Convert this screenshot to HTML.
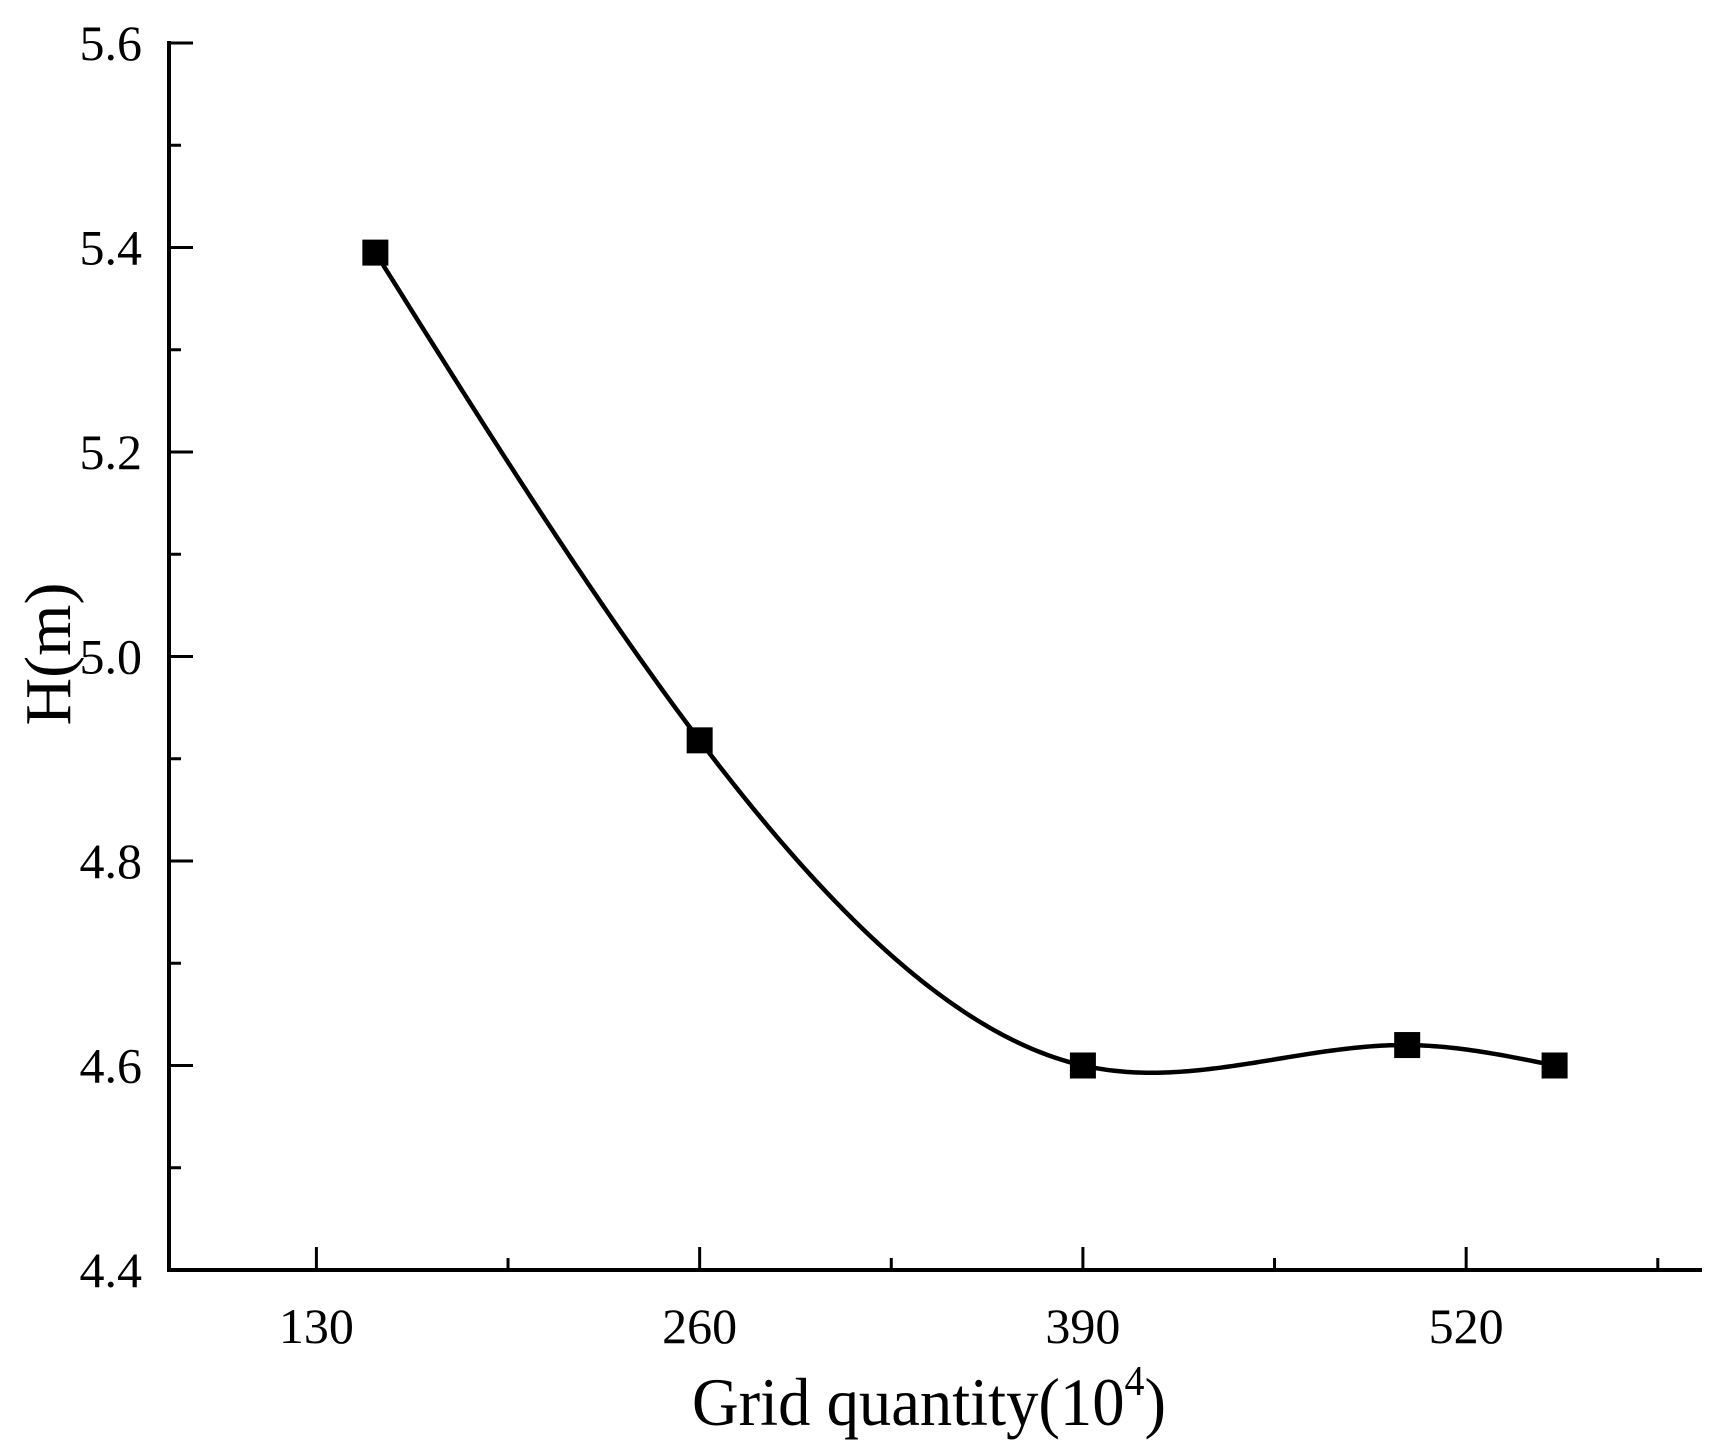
<!DOCTYPE html>
<html><head><meta charset="utf-8"><style>
html,body{margin:0;padding:0;background:#fff;}
svg{display:block;font-family:"Liberation Serif",serif;}
</style></head><body>
<svg id="chart" width="1724" height="1454" viewBox="0 0 1724 1454" xmlns="http://www.w3.org/2000/svg">
<g id="axes"></g>
<g id="series"></g>
<text x="929" y="1425" font-size="68" text-anchor="middle" textLength="474" lengthAdjust="spacingAndGlyphs">Grid quantity(10<tspan font-size="42" dy="-30">4</tspan><tspan dy="30">)</tspan></text>
<text transform="translate(70,654) rotate(-90)" font-size="66" text-anchor="middle">H(m)</text>
</svg>
<script>
const xValues = [150, 260, 390, 500, 550];
const yValues = [5.395, 4.918, 4.60, 4.62, 4.60];
const xTickLabels = ["130", "260", "390", "520"];
const xTickValues = [130, 260, 390, 520];
const xMinorValues = [195, 325, 455, 585];
const yTickLabels = ["4.4", "4.6", "4.8", "5.0", "5.2", "5.4", "5.6"];
const yTickValues = [4.4, 4.6, 4.8, 5.0, 5.2, 5.4, 5.6];
const yMinorValues = [4.5, 4.7, 4.9, 5.1, 5.3, 5.5];

const NS = "http://www.w3.org/2000/svg";
const X0 = 80, X1 = 600, PX0 = 169, PX1 = 1702;
const Y0 = 4.4, Y1 = 5.6, PY0 = 1270, PY1 = 43;
function sx(v){ return PX0 + (v - X0) / (X1 - X0) * (PX1 - PX0); }
function sy(v){ return PY0 + (v - Y0) / (Y1 - Y0) * (PY1 - PY0); }
function mk(tag, attrs, parent){ const e = document.createElementNS(NS, tag); for (const k in attrs) e.setAttribute(k, attrs[k]); parent.appendChild(e); return e; }
const axes = document.getElementById('axes');
const series = document.getElementById('series');

let e = mk('line', {x1: PX0, y1: PY1 - 2, x2: PX0, y2: PY0 + 2, stroke: '#000', 'stroke-width': 4}, axes);


e = mk('line', {x1: PX0 - 2, y1: PY0, x2: PX1, y2: PY0, stroke: '#000', 'stroke-width': 4}, axes);



xTickValues.forEach((v, i) => {
  const t = mk('line', {x1: sx(v), y1: PY0, x2: sx(v), y2: PY0 - 23, stroke: '#000', 'stroke-width': 3}, axes);
  
  
  const l = mk('text', {x: sx(v), y: 1343, 'font-size': 50, 'text-anchor': 'middle'}, axes);
  l.textContent = xTickLabels[i];
  
  
});
xMinorValues.forEach(v => {
  const t = mk('line', {x1: sx(v), y1: PY0, x2: sx(v), y2: PY0 - 12, stroke: '#000', 'stroke-width': 3}, axes);
  
  
});
yTickValues.forEach((v, i) => {
  const t = mk('line', {x1: PX0, y1: sy(v), x2: PX0 + 24, y2: sy(v), stroke: '#000', 'stroke-width': 3}, axes);
  
  
  const l = mk('text', {x: 142, y: sy(v) + 17, 'font-size': 50, 'text-anchor': 'end'}, axes);
  l.textContent = yTickLabels[i];
  
  
});
yMinorValues.forEach(v => {
  const t = mk('line', {x1: PX0, y1: sy(v), x2: PX0 + 12, y2: sy(v), stroke: '#000', 'stroke-width': 3}, axes);
  
  
});

// natural cubic spline in data space
function spline(xs, ys){
  const n = xs.length, h = [], a = [], l = [1], mu = [0], z = [0], c = new Array(n).fill(0), b = [], d = [];
  for (let i = 0; i < n - 1; i++) h.push(xs[i+1] - xs[i]);
  for (let i = 1; i < n - 1; i++) a[i] = 3/h[i]*(ys[i+1]-ys[i]) - 3/h[i-1]*(ys[i]-ys[i-1]);
  for (let i = 1; i < n - 1; i++){ l[i] = 2*(xs[i+1]-xs[i-1]) - h[i-1]*mu[i-1]; mu[i] = h[i]/l[i]; z[i] = (a[i]-h[i-1]*z[i-1])/l[i]; }
  for (let j = n - 2; j >= 0; j--){ c[j] = (j>0? z[j] - mu[j]*c[j+1] : 0); if (j===0) c[0]=0; b[j] = (ys[j+1]-ys[j])/h[j] - h[j]*(c[j+1]+2*c[j])/3; d[j] = (c[j+1]-c[j])/(3*h[j]); }
  return function(x){ let i = 0; while (i < n - 2 && x > xs[i+1]) i++; const t = x - xs[i]; return ys[i] + b[i]*t + c[i]*t*t + d[i]*t*t*t; };
}
const f = spline(xValues, yValues);
let dstr = '';
const steps = 300;
for (let k = 0; k <= steps; k++){
  const x = xValues[0] + (xValues[xValues.length-1] - xValues[0]) * k / steps;
  dstr += (k ? 'L' : 'M') + sx(x).toFixed(2) + ',' + sy(f(x)).toFixed(2);
}
const path = mk('path', {d: dstr, fill: 'none', stroke: '#000', 'stroke-width': 4.5}, series);


xValues.forEach((v, i) => {
  const m = mk('rect', {x: sx(v) - 13, y: sy(yValues[i]) - 13, width: 26, height: 26, fill: '#000'}, series);
  
  
});
</script>
</body></html>
